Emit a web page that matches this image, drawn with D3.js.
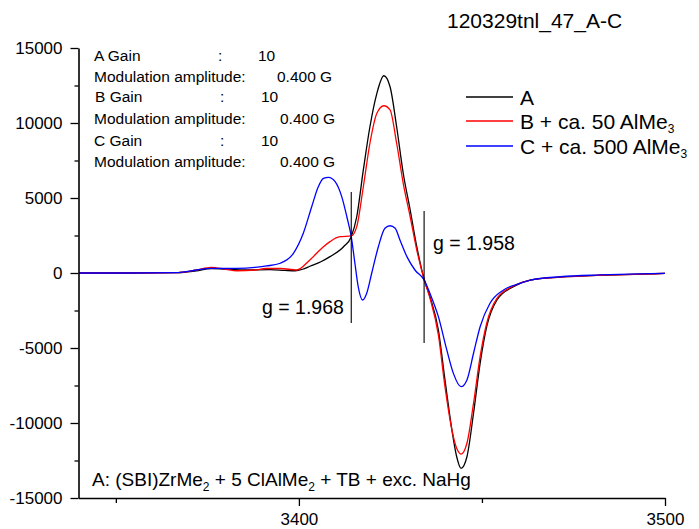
<!DOCTYPE html>
<html><head><meta charset="utf-8">
<script src="https://cdn.jsdelivr.net/npm/d3@7"></script>
<style>body{margin:0;background:#fff}svg{display:block}text{font-family:Arial,"Liberation Sans",sans-serif;fill:#000}</style>
</head><body>
<svg id="c" width="699" height="529"></svg>
<script>
const seriesNames = ["A", "B + ca. 50 AlMe", "C + ca. 500 AlMe"];
const seriesSub = ["", "3", "3"];
const seriesColors = ["#000000", "#ff0000", "#0000ff"];
const xTicksMajor = [3400, 3500];
const xTicksMinor = [3350, 3450];
const yTicksMajor = [-15000, -10000, -5000, 0, 5000, 10000, 15000];
const yTicksMinor = [-12500, -7500, -2500, 2500, 7500, 12500];

const seriesA = [[3340,0],[3354,0],[3367,20],[3372,150],[3376,300],[3380,250],[3386,200],[3392,220],[3396,180],[3399,150],[3401,250],[3403,450],[3406,750],[3408.5,1090],[3412.2,1750],[3414.3,2420],[3415.8,3750],[3417.6,6870],[3419.4,9750],[3421.3,11980],[3423.2,13150],[3424.9,12420],[3426.7,9750],[3428.5,6650],[3430.4,4200],[3432.2,1750],[3434.3,-500],[3435.8,-1580],[3438.1,-3800],[3439.9,-7130],[3441.8,-10470],[3443.1,-12250],[3444.3,-13020],[3445.9,-12250],[3447.7,-9350],[3449.5,-6020],[3451.3,-3580],[3454.1,-1800],[3458.6,-910],[3463.2,-470],[3471.4,-280],[3482.3,-150],[3493.2,-80],[3500,-30]];
const seriesB = [[3340,0],[3354,0],[3367,30],[3372,200],[3376,380],[3380,250],[3383,150],[3388,200],[3391,300],[3395,300],[3399.4,200],[3403,870],[3406.7,1750],[3408.5,2090],[3411.2,2420],[3414.3,2470],[3415.8,3090],[3417.6,5750],[3419.4,8650],[3421.3,10650],[3423.2,11150],[3424.9,10870],[3426.7,8650],[3428.5,5980],[3430.4,3750],[3432.2,1530],[3434.3,-500],[3435.8,-1670],[3438.1,-4130],[3439.9,-7580],[3441.8,-10470],[3443.1,-11690],[3444.3,-12070],[3445.9,-11350],[3447.7,-8690],[3449.5,-5580],[3451.3,-3350],[3454.1,-1690],[3458.6,-870],[3463.2,-470],[3471.4,-280],[3482.3,-150],[3493.2,-80],[3500,-30]];
const seriesC = [[3340,0],[3354,0],[3367,30],[3372,200],[3376,310],[3380,300],[3383,310],[3388,380],[3391.2,470],[3394.9,650],[3398.5,1310],[3401.2,2650],[3403.5,4420],[3405.3,5750],[3406.7,6310],[3408.1,6380],[3409.9,6090],[3411.7,5090],[3413.1,3750],[3414.3,2420],[3415.3,650],[3416.2,-910],[3417.4,-1800],[3418.5,-1360],[3419.9,0],[3421.7,1750],[3423.5,2980],[3424.9,3150],[3426.3,2980],[3427.6,2200],[3429.5,1090],[3431.7,200],[3434.3,-500],[3435.8,-1360],[3438.1,-2910],[3440.4,-5130],[3442.2,-6690],[3444.3,-7580],[3445.9,-7130],[3447.7,-5350],[3449.5,-3580],[3452.2,-2020],[3455.9,-1130],[3460.4,-690],[3463.2,-470],[3471.4,-250],[3482.3,-130],[3493.2,-60],[3500,-20]];
const gMarkers = [{g:3414.3, top:5400, bottom:-3330, label:"g = 1.968"}, {g:3434.2, top:4130, bottom:-4670, label:"g = 1.958"}];
const infoRows = [["A Gain", ":", "10"], ["Modulation amplitude:", "", "0.400 G"], ["B Gain", ":", "10"], ["Modulation amplitude:", "", "0.400 G"], ["C Gain", ":", "10"], ["Modulation amplitude:", "", "0.400 G"]];
const titleText = "120329tnl_47_A-C";

const svg = d3.select("#c");
const x = d3.scaleLinear().domain([3339.8, 3500]).range([78.5, 665]);
const y = d3.scaleLinear().domain([-15000, 15000]).range([498, 48]);
const fmt = d => String(d);

// curves
const line = d3.line().x(d => x(d[0])).y(d => y(d[1])).curve(d3.curveMonotoneX);
[seriesA, seriesB, seriesC].forEach((s, i) => {
  svg.append("path").attr("d", line(s)).attr("fill", "none")
    .attr("stroke", seriesColors[i]).attr("stroke-width", 1.3);
});

// axes
const gy = svg.append("g").attr("transform", "translate(78.5,0)")
  .call(d3.axisLeft(y).tickValues(yTicksMajor).tickSize(8).tickSizeOuter(0).tickPadding(8).tickFormat(fmt));
gy.select(".domain").attr("stroke-width", 1.6);
gy.selectAll(".tick line").attr("stroke-width", 1.3);
gy.selectAll(".tick text").style("font-size", "17px").attr("font-family", null);
svg.append("g").attr("transform", "translate(78.5,0)")
  .call(d3.axisLeft(y).tickValues(yTicksMinor).tickSize(4).tickFormat(""))
  .call(g => g.select(".domain").remove()).selectAll("line").attr("stroke-width", 1.3);

const gx = svg.append("g").attr("transform", "translate(0,498)")
  .call(d3.axisBottom(x).tickValues(xTicksMajor).tickSize(8).tickSizeOuter(0).tickFormat(fmt));
gx.select(".domain").attr("stroke-width", 1.6);
gx.selectAll(".tick line").attr("stroke-width", 1.3);
gx.selectAll(".tick text").style("font-size", "17px").attr("font-family", null).attr("dy", null).attr("y", 27);
svg.append("g").attr("transform", "translate(0,498)")
  .call(d3.axisBottom(x).tickValues(xTicksMinor).tickSize(5).tickFormat(""))
  .call(g => g.select(".domain").remove()).selectAll("line").attr("stroke-width", 1.3);

// g markers
gMarkers.forEach(m => {
  svg.append("line").attr("x1", x(m.g)).attr("x2", x(m.g)).attr("y1", y(m.top)).attr("y2", y(m.bottom))
    .attr("stroke", "#000").attr("stroke-width", 1.1);
});
svg.append("text").attr("x", 262).attr("y", 314).style("font-size", "19.5px").text(gMarkers[0].label);
svg.append("text").attr("x", 433).attr("y", 250).style("font-size", "19.5px").text(gMarkers[1].label);

// title
svg.append("text").attr("x", 447).attr("y", 28).style("font-size", "21px").text(titleText);

// legend
const legY = [97, 121, 146];
seriesNames.forEach((n, i) => {
  svg.append("line").attr("x1", 466).attr("x2", 513).attr("y1", legY[i]).attr("y2", legY[i])
    .attr("stroke", seriesColors[i]).attr("stroke-width", 1.3);
  const t = svg.append("text").attr("x", 520).attr("y", legY[i] + 7.5).style("font-size", "21px").text(n);
  if (seriesSub[i]) t.append("tspan").attr("dy", 4).style("font-size", "12px").text(seriesSub[i]);
});

// info block
const infoY = [60.5, 82, 102, 123.5, 145.5, 167];
const infoX0 = [94, 94, 95, 94, 94, 94];
const infoX1 = [218, 0, 220, 0, 220, 0];
const infoX2 = [258, 277, 261, 280, 261, 280];
infoRows.forEach((r, i) => {
  svg.append("text").attr("x", infoX0[i]).attr("y", infoY[i]).style("font-size", "15.5px").text(r[0]);
  if (r[1]) svg.append("text").attr("x", infoX1[i]).attr("y", infoY[i]).style("font-size", "15.5px").text(r[1]);
  svg.append("text").attr("x", infoX2[i]).attr("y", infoY[i]).style("font-size", "15.5px").text(r[2]);
});

// bottom annotation
const bt = svg.append("text").attr("x", 92).attr("y", 486).style("font-size", "19px");
bt.append("tspan").text("A: (SBI)ZrMe");
bt.append("tspan").attr("dy", 5).style("font-size", "12px").text("2");
bt.append("tspan").attr("dy", -5).text(" + 5 ClAlMe");
bt.append("tspan").attr("dy", 5).style("font-size", "12px").text("2");
bt.append("tspan").attr("dy", -5).text(" + TB + exc. NaHg");
</script>
</body></html>
